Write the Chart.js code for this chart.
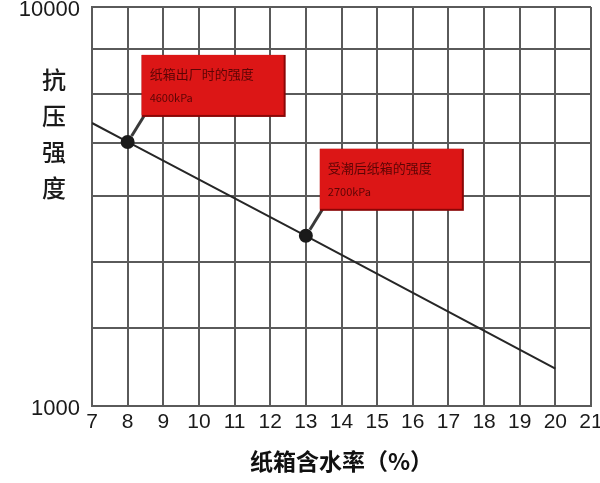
<!DOCTYPE html>
<html>
<head>
<meta charset="utf-8">
<script src="https://cdn.jsdelivr.net/npm/chart.js"></script>
<style>
html, body { margin: 0; padding: 0; background: #fff; }
#wrap { width: 600px; height: 483px; }
</style>
</head>
<body>
<div id="wrap"><canvas id="strengthChart"></canvas></div>
<script>
// 纸箱含水率 (%) vs 抗压强度
var moisture = [7, 8, 13, 20];
var strength = [5120, 4590, 2670, 1240];
var markerRadius = [0, 6, 6, 0];
var xTicks = [7, 8, 9, 10, 11, 12, 13, 14, 15, 16, 17, 18, 19, 20, 21];
var yGridValues = [1000, 1570, 2300, 3360, 4560, 6050, 7850, 10000];
var yLabels = [1000, 10000];
var calloutText = [
  null,
  ["纸箱出厂时的强度", "4600kPa"],
  ["受潮后纸箱的强度", "2700kPa"],
  null
];
var yTitle = ["抗", "压", "强", "度"];

var points = moisture.map(function (m, i) {
  return { x: m, y: strength[i] };
});

// callout boxes + stacked y title
var extras = {
  id: "extras",
  afterDatasetsDraw: function (chart) {
    var ctx = chart.ctx;
    var meta = chart.getDatasetMeta(0);
    meta.data.forEach(function (pt, i) {
      var txt = calloutText[i];
      if (!txt) return;
      var bx = pt.x + 14, by = pt.y - 87, bw = 142, bh = 60;
      ctx.save();
      // pointer
      ctx.strokeStyle = "#3a3a3a";
      ctx.lineWidth = 3;
      ctx.beginPath();
      ctx.moveTo(bx + 3, by + bh);
      ctx.lineTo(pt.x + 4, pt.y - 6);
      ctx.stroke();
      // box
      ctx.fillStyle = "#8a0606";
      ctx.fillRect(bx, by, bw + 2, bh + 2);
      ctx.fillStyle = "#dc1616";
      ctx.fillRect(bx, by, bw, bh);
      ctx.fillStyle = "rgba(60,0,0,0.8)";
      ctx.textBaseline = "middle";
      ctx.font = "13px 'Noto Sans CJK SC'";
      ctx.fillText(txt[0], bx + 8, by + 19);
      ctx.font = "11px 'Noto Sans CJK SC'";
      ctx.fillText(txt[1], bx + 8, by + 43);
      ctx.restore();
    });
    ctx.save();
    ctx.fillStyle = "#1a1a1a";
    ctx.font = "500 24px 'Noto Sans CJK SC'";
    ctx.textAlign = "center";
    ctx.textBaseline = "middle";
    yTitle.forEach(function (ch, k) {
      ctx.fillText(ch, 54, 80 + k * 36);
    });
    ctx.restore();
  }
};

new Chart(document.getElementById("strengthChart").getContext("2d"), {
  type: "line",
  data: {
    datasets: [
      {
        data: points,
        borderColor: "#262626",
        borderWidth: 2,
        pointRadius: markerRadius,
        pointBackgroundColor: "#1a1a1a",
        pointBorderColor: "#1a1a1a",
        fill: false,
        tension: 0
      }
    ]
  },
  options: {
    responsive: true,
    maintainAspectRatio: false,
    animation: false,
    layout: { padding: { top: 7, right: 9, left: 0, bottom: 0 } },
    plugins: { legend: { display: false }, tooltip: { enabled: false } },
    scales: {
      x: {
        type: "linear",
        min: 7,
        max: 21,
        afterBuildTicks: function (scale) {
          scale.ticks = xTicks.map(function (v) { return { value: v }; });
        },
        afterFit: function (scale) {
          scale.height = 77;
          scale.paddingLeft = 0;
          scale.paddingRight = 0;
        },
        grid: { color: "#5a5a5a", lineWidth: 2, drawTicks: false },
        border: { color: "#5a5a5a", width: 2 },
        ticks: {
          autoSkip: false,
          maxRotation: 0,
          padding: 4,
          color: "#1a1a1a",
          font: { family: "'Liberation Sans', Arial", size: 21 }
        },
        title: {
          display: true,
          text: "纸箱含水率（%）",
          color: "#111",
          font: { family: "'Noto Sans CJK SC'", size: 23, weight: "bold" },
          padding: { top: 0, bottom: 8 }
        }
      },
      y: {
        type: "logarithmic",
        min: 1000,
        max: 10000,
        afterBuildTicks: function (scale) {
          scale.ticks = yGridValues.map(function (v) { return { value: v }; });
        },
        afterFit: function (scale) {
          scale.width = 92;
          scale.paddingTop = 0;
          scale.paddingBottom = 0;
        },
        grid: { color: "#5a5a5a", lineWidth: 2, drawTicks: false },
        border: { color: "#5a5a5a", width: 2 },
        ticks: {
          autoSkip: false,
          padding: 12,
          labelOffset: 3,
          color: "#1a1a1a",
          font: { family: "'Liberation Sans', Arial", size: 22 },
          callback: function (value) {
            return yLabels.indexOf(value) >= 0 ? String(value) : "";
          }
        }
      }
    }
  },
  plugins: [extras]
});
</script>
</body>
</html>
